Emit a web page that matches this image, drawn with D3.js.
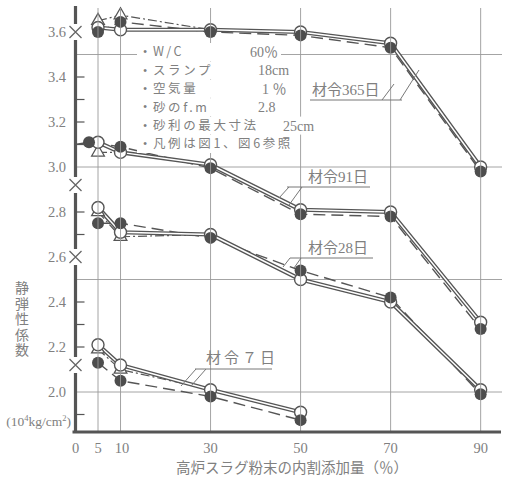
<!DOCTYPE html>
<html><head><meta charset="utf-8">
<script src="https://cdn.jsdelivr.net/npm/d3@7"></script>
<style>body{margin:0;background:#fff} svg{display:block}</style>
</head><body><svg id="c" width="507" height="483"></svg>
<script>
// ---- data ----
const xTicks = [0,5,10,30,50,70,90];
const gridX = [5,10,30,50,70,90];
const gridY = [3.5,3.0,2.5,2.0];
const yLabels = [3.6,3.4,3.2,3.0,2.8,2.6,2.4,2.2,2.0];
const yBreaks = [3.6,2.92,2.6,2.12];

// 材令365日
const x365 = [5,10,30,50,70,90];
const open365 = [3.62,3.61,3.61,3.60,3.55,3.00];
const fill365 = [3.60,3.645,3.60,3.585,3.53,2.98];
const triX365 = [5,10];
const tri365 = [3.65,3.675];
// 材令91日
const x91 = [5,10,30,50,70,90];
const open91 = [3.11,3.065,3.01,2.81,2.80,2.31];
const fillX91 = [0,3,10,30,50,70,90];
const fill91 = [3.10,3.11,3.09,2.995,2.79,2.78,2.28];
const triX91 = [5];
const tri91 = [3.065];
// 材令28日
const x28 = [5,10,30,50,70,90];
const open28 = [2.82,2.71,2.70,2.50,2.40,2.01];
const fill28 = [2.75,2.75,2.685,2.54,2.42,1.99];
const triX28 = [5,10];
const tri28 = [2.80,2.69];
// 材令7日
const x7 = [5,10,30,50];
const open7 = [2.21,2.12,2.01,1.91];
const fill7 = [2.13,2.05,1.98,1.875];
const triX7 = [5,10];
const tri7 = [2.19,2.10];

const groups = [
  {ox:x365, open:open365, fx:x365, fill:fill365, tx:triX365, tri:tri365},
  {ox:x91, open:open91, fx:fillX91, fill:fill91, tx:triX91, tri:tri91},
  {ox:x28, open:open28, fx:x28, fill:fill28, tx:triX28, tri:tri28},
  {ox:x7, open:open7, fx:x7, fill:fill7, tx:triX7, tri:tri7}
];

const noteRows = [
  ["W/C","60％",250],
  ["スランプ","18cm",258],
  ["空気量","1 ％",262],
  ["砂のf.m","2.8",258],
  ["砂利の最大寸法","25cm",283],
  ["凡例は図1、図6参照","",0]
];
const ageLabels = ["材令365日","材令91日","材令28日","材令７日"];

// ---- drawing ----
const svg = d3.select('#c');
const x = d3.scaleLinear().domain([0,94.3]).range([75.5,500]);
const y = d3.scaleLinear().domain([3.6,2.0]).range([32,392]);
const ink = '#555', txt = '#808080', grid = '#9a9a9a';
const serif = '"Liberation Serif","DejaVu Serif","Noto Sans CJK JP",serif';
const jp = '"Noto Sans CJK JP","Liberation Serif",sans-serif';
const yBottom = 432, yTop = 6;

// horizontal grid
svg.append('g').selectAll('line').data(gridY).join('line')
  .attr('x1',x(0)).attr('x2',502).attr('y1',d=>y(d)).attr('y2',d=>y(d))
  .attr('stroke',grid).attr('stroke-width',0.9);

// data lines
const line = d3.line().x(d=>x(d[0])).y(d=>y(d[1]));
groups.forEach(g=>{
  const op = g.ox.map((v,i)=>[v,g.open[i]]);
  const fp = g.fx.map((v,i)=>[v,g.fill[i]]);
  const tp = g.tx.map((v,i)=>[v,g.tri[i]]);
  const nxt = g.ox.findIndex(v=>v>g.tx[g.tx.length-1]);
  const tline = tp.concat(nxt>=0?[op[nxt]]:[]);
  svg.append('path').attr('d',line(fp)).attr('fill','none')
    .attr('stroke',ink).attr('stroke-width',1.4).attr('stroke-dasharray','12,6');
  svg.append('path').attr('d',line(tline)).attr('fill','none')
    .attr('stroke',ink).attr('stroke-width',1.2).attr('stroke-dasharray','9,3,2,3');
  svg.append('path').attr('d',line(op)).attr('fill','none')
    .attr('stroke',ink).attr('stroke-width',4.2).attr('stroke-linejoin','round');
  svg.append('path').attr('d',line(op)).attr('fill','none')
    .attr('stroke','#fff').attr('stroke-width',1.4).attr('stroke-linejoin','round');
});

// markers
groups.forEach(g=>{
  const op = g.ox.map((v,i)=>[v,g.open[i]]);
  const fp = g.fx.map((v,i)=>[v,g.fill[i]]).filter(d=>d[0]>0);
  const tp = g.tx.map((v,i)=>[v,g.tri[i]]);
  svg.append('g').selectAll('path').data(tp).join('path')
    .attr('d',d3.symbol(d3.symbolTriangle,70))
    .attr('transform',d=>`translate(${x(d[0])},${y(d[1])})`)
    .attr('fill','#fff').attr('stroke',ink).attr('stroke-width',1.3);
  svg.append('g').selectAll('circle').data(op).join('circle')
    .attr('cx',d=>x(d[0])).attr('cy',d=>y(d[1])).attr('r',6)
    .attr('fill','#fff').attr('stroke',ink).attr('stroke-width',1.4);
  svg.append('g').selectAll('circle').data(fp).join('circle')
    .attr('cx',d=>x(d[0])).attr('cy',d=>y(d[1])).attr('r',6)
    .attr('fill','#4d4d4d');
});

// vertical grid
svg.append('g').selectAll('line').data(gridX).join('line')
  .attr('x1',d=>x(d)).attr('x2',d=>x(d)).attr('y1',8).attr('y2',yBottom)
  .attr('stroke',grid).attr('stroke-width',0.9);

// note block with white backing
noteRows.forEach((r,i)=>{
  const cy = 52 + i*18.4;
  const gg = svg.append('g');
  const rect = gg.append('rect');
  gg.append('text').attr('x',143).attr('y',cy).attr('dy','0.35em')
    .attr('font-family',serif).attr('font-size',12).attr('fill',txt).text('•');
  const t = gg.append('text').attr('x',153).attr('y',cy).attr('dy','0.35em')
    .attr('font-family',jp).attr('font-size',12.5).attr('letter-spacing',2.6)
    .attr('fill',txt).text(r[0]);
  let x2 = t.node().getBBox().x + t.node().getBBox().width;
  if(r[1]){
    const v = gg.append('text').attr('x',r[2]).attr('y',cy).attr('dy','0.35em')
      .attr('font-family',serif).attr('font-size',14).attr('fill',txt).text(r[1]);
    const b = v.node().getBBox(); x2 = b.x+b.width;
  }
  rect.attr('x',137).attr('y',cy-9).attr('width',x2-137+3).attr('height',18).attr('fill','#fff');
});

// age labels with leaders
const ann = [
  {tx:312, ty:90, ux1:310, ux2:402, uy:100, l:[[382,100,394,84],[400,100,419,70]], ls:0},
  {tx:308, ty:177, ux1:287, ux2:370, uy:187, l:[[289,187,279,198],[302,187,289,205]], ls:0},
  {tx:308, ty:248, ux1:290, ux2:373, uy:258, l:[[290,258,283,267],[301,258,294,268]], ls:0},
  {tx:206, ty:358, ux1:195, ux2:272, uy:369, l:[[196,369,181,386],[206,369,191,386]], ls:3}
];
ann.forEach((a,i)=>{
  svg.append('text').attr('x',a.tx).attr('y',a.ty).attr('dy','0.35em')
    .attr('font-family',serif).attr('font-size',15).attr('fill',txt)
    .attr('letter-spacing',a.ls).text(ageLabels[i]);
  svg.append('line').attr('x1',a.ux1).attr('x2',a.ux2).attr('y1',a.uy).attr('y2',a.uy)
    .attr('stroke','#777').attr('stroke-width',1);
  a.l.forEach(s=>svg.append('line').attr('x1',s[0]).attr('y1',s[1]).attr('x2',s[2]).attr('y2',s[3])
    .attr('stroke','#777').attr('stroke-width',1));
});

// y axis with breaks
const ax = x(0);
const gapHalf = 8;
const bp = yBreaks.map(b=>y(b)).sort((a,b)=>a-b);
let segs = [], start = yTop;
bp.forEach(p=>{segs.push([start,p-gapHalf]); start = p+gapHalf;});
segs.push([start,yBottom]);
svg.append('g').selectAll('line').data(segs).join('line')
  .attr('x1',ax).attr('x2',ax).attr('y1',d=>d[0]).attr('y2',d=>d[1])
  .attr('stroke',ink).attr('stroke-width',3.2);
svg.append('g').selectAll('path').data(yBreaks).join('path')
  .attr('d',d=>{const cx=ax, cy=y(d), s=6;return `M${cx-s},${cy-s}L${cx+s},${cy+s}M${cx-s},${cy+s}L${cx+s},${cy-s}`;})
  .attr('stroke','#666').attr('stroke-width',1.3).attr('fill','none');
const tickVals = d3.range(19,36).map(v=>v/10)
  .filter(v=>!yBreaks.some(b=>Math.abs(b-v)<0.045) && !gridY.some(g=>Math.abs(g-v)<1e-6));
svg.append('g').selectAll('line').data(tickVals).join('line')
  .attr('x1',ax).attr('x2',ax+9).attr('y1',d=>y(d)).attr('y2',d=>y(d))
  .attr('stroke',ink).attr('stroke-width',1.2);
svg.append('g').selectAll('text').data(yLabels).join('text')
  .attr('x',66).attr('y',d=>y(d)).attr('dy','0.35em').attr('text-anchor','end')
  .attr('font-family',serif).attr('font-size',14.5).attr('fill',txt)
  .text(d=>d.toFixed(1));
svg.append('text').attr('x',71).attr('y',421).attr('dy','0.35em').attr('text-anchor','end')
  .attr('font-family',serif).attr('font-size',13.5).attr('fill',txt)
  .html('(10<tspan dy="-5" font-size="8.5">4</tspan><tspan dy="5">kg/cm</tspan><tspan dy="-5" font-size="8.5">2</tspan><tspan dy="5">)</tspan>');
svg.append('text').attr('x',22).attr('y',281)
  .attr('font-family',jp).attr('font-size',14).attr('fill',txt)
  .attr('letter-spacing',1.5)
  .style('writing-mode','vertical-rl').style('text-orientation','upright')
  .text('静弾性係数');

// x axis
svg.append('line').attr('x1',ax-3).attr('x2',501).attr('y1',yBottom).attr('y2',yBottom)
  .attr('stroke',ink).attr('stroke-width',3);
svg.append('g').selectAll('text').data(xTicks).join('text')
  .attr('x',d=>x(d)+(d===10?1.5:0)).attr('y',448).attr('dy','0.35em').attr('text-anchor','middle')
  .attr('font-family',serif).attr('font-size',14.5).attr('fill',txt).text(d=>d);
svg.append('text').attr('x',292).attr('y',468).attr('dy','0.35em').attr('text-anchor','middle')
  .attr('font-family',jp).attr('font-size',14.5).attr('fill',txt)
  .text('高炉スラグ粉末の内割添加量（％）');
</script></body></html>
